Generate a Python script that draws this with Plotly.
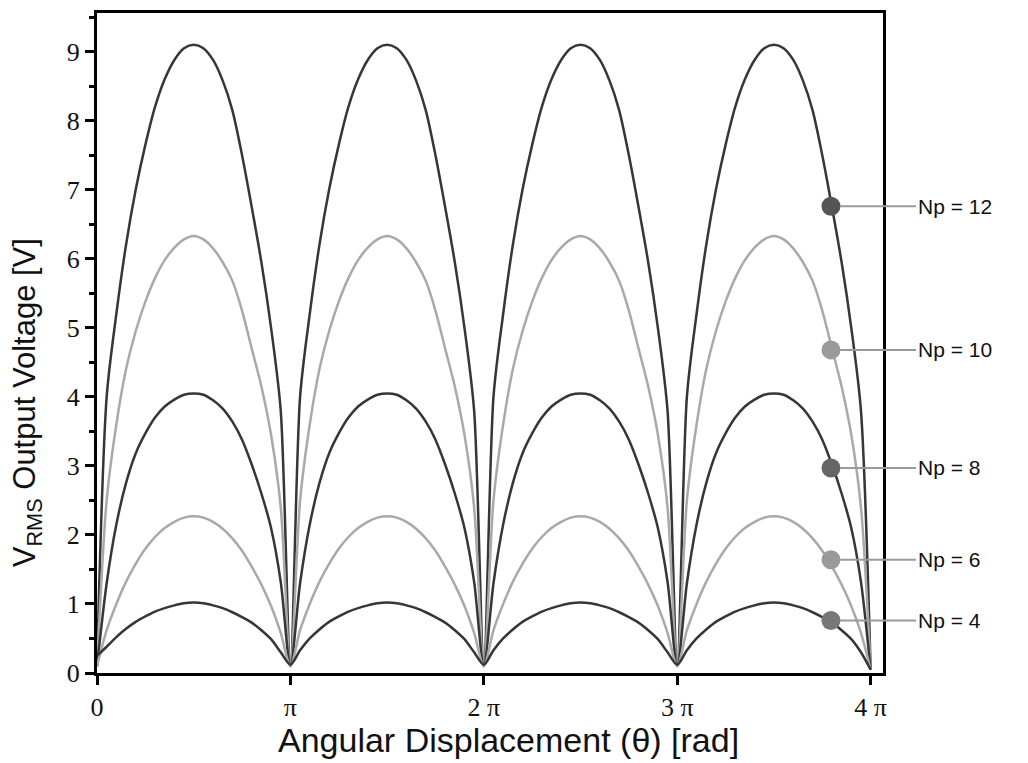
import plotly.graph_objects as go

# angular positions in multiples of pi (0 .. 4 pi, step 0.05 pi)
THETA_PI = [0, 0.05, 0.1, 0.15, 0.2, 0.25, 0.3, 0.35, 0.4, 0.45, 0.5, 0.55, 0.6, 0.65, 0.7, 0.75, 0.8, 0.85, 0.9, 0.95,
            1, 1.05, 1.1, 1.15, 1.2, 1.25, 1.3, 1.35, 1.4, 1.45, 1.5, 1.55, 1.6, 1.65, 1.7, 1.75, 1.8, 1.85, 1.9, 1.95,
            2, 2.05, 2.1, 2.15, 2.2, 2.25, 2.3, 2.35, 2.4, 2.45, 2.5, 2.55, 2.6, 2.65, 2.7, 2.75, 2.8, 2.85, 2.9, 2.95,
            3, 3.05, 3.1, 3.15, 3.2, 3.25, 3.3, 3.35, 3.4, 3.45, 3.5, 3.55, 3.6, 3.65, 3.7, 3.75, 3.8, 3.85, 3.9, 3.95,
            4]

V_NP12 = [0.1, 4.0, 5.2, 6.2, 7.0, 7.65, 8.2, 8.6, 8.88, 9.05, 9.1, 9.05, 8.88, 8.58, 8.15, 7.5, 6.75, 5.95, 5.0, 3.8,
          0.1, 4.0, 5.2, 6.2, 7.0, 7.65, 8.2, 8.6, 8.88, 9.05, 9.1, 9.05, 8.88, 8.58, 8.15, 7.5, 6.75, 5.95, 5.0, 3.8,
          0.1, 4.0, 5.2, 6.2, 7.0, 7.65, 8.2, 8.6, 8.88, 9.05, 9.1, 9.05, 8.88, 8.58, 8.15, 7.5, 6.75, 5.95, 5.0, 3.8,
          0.1, 4.0, 5.2, 6.2, 7.0, 7.65, 8.2, 8.6, 8.88, 9.05, 9.1, 9.05, 8.88, 8.58, 8.15, 7.5, 6.75, 5.95, 5.0, 3.8,
          0.05]
V_NP10 = [0.1, 2.5, 3.6, 4.4, 4.95, 5.38, 5.72, 5.98, 6.16, 6.28, 6.33, 6.28, 6.15, 5.95, 5.68, 5.25, 4.7, 4.15, 3.45, 2.4,
          0.1, 2.5, 3.6, 4.4, 4.95, 5.38, 5.72, 5.98, 6.16, 6.28, 6.33, 6.28, 6.15, 5.95, 5.68, 5.25, 4.7, 4.15, 3.45, 2.4,
          0.1, 2.5, 3.6, 4.4, 4.95, 5.38, 5.72, 5.98, 6.16, 6.28, 6.33, 6.28, 6.15, 5.95, 5.68, 5.25, 4.7, 4.15, 3.45, 2.4,
          0.1, 2.5, 3.6, 4.4, 4.95, 5.38, 5.72, 5.98, 6.16, 6.28, 6.33, 6.28, 6.15, 5.95, 5.68, 5.25, 4.7, 4.15, 3.45, 2.4,
          0.05]
V_NP8 = [0.1, 1.3, 2.15, 2.75, 3.18, 3.47, 3.7, 3.86, 3.96, 4.03, 4.05, 4.03, 3.95, 3.83, 3.64, 3.38, 3.02, 2.6, 2.1, 1.32,
         0.1, 1.3, 2.15, 2.75, 3.18, 3.47, 3.7, 3.86, 3.96, 4.03, 4.05, 4.03, 3.95, 3.83, 3.64, 3.38, 3.02, 2.6, 2.1, 1.32,
         0.1, 1.3, 2.15, 2.75, 3.18, 3.47, 3.7, 3.86, 3.96, 4.03, 4.05, 4.03, 3.95, 3.83, 3.64, 3.38, 3.02, 2.6, 2.1, 1.32,
         0.1, 1.3, 2.15, 2.75, 3.18, 3.47, 3.7, 3.86, 3.96, 4.03, 4.05, 4.03, 3.95, 3.83, 3.64, 3.38, 3.02, 2.6, 2.1, 1.32,
         0.05]
V_NP6 = [0.1, 0.62, 1.0, 1.32, 1.58, 1.8, 1.97, 2.1, 2.19, 2.25, 2.27, 2.25, 2.19, 2.09, 1.95, 1.77, 1.54, 1.28, 0.97, 0.58,
         0.1, 0.62, 1.0, 1.32, 1.58, 1.8, 1.97, 2.1, 2.19, 2.25, 2.27, 2.25, 2.19, 2.09, 1.95, 1.77, 1.54, 1.28, 0.97, 0.58,
         0.1, 0.62, 1.0, 1.32, 1.58, 1.8, 1.97, 2.1, 2.19, 2.25, 2.27, 2.25, 2.19, 2.09, 1.95, 1.77, 1.54, 1.28, 0.97, 0.58,
         0.1, 0.62, 1.0, 1.32, 1.58, 1.8, 1.97, 2.1, 2.19, 2.25, 2.27, 2.25, 2.19, 2.09, 1.95, 1.77, 1.54, 1.28, 0.97, 0.58,
         0.05]
V_NP4 = [0.25, 0.38, 0.52, 0.64, 0.74, 0.82, 0.89, 0.94, 0.98, 1.01, 1.02, 1.01, 0.98, 0.94, 0.88, 0.81, 0.73, 0.62, 0.49, 0.3,
         0.12, 0.33, 0.5, 0.63, 0.74, 0.82, 0.89, 0.94, 0.98, 1.01, 1.02, 1.01, 0.98, 0.94, 0.88, 0.81, 0.73, 0.62, 0.49, 0.3,
         0.12, 0.33, 0.5, 0.63, 0.74, 0.82, 0.89, 0.94, 0.98, 1.01, 1.02, 1.01, 0.98, 0.94, 0.88, 0.81, 0.73, 0.62, 0.49, 0.3,
         0.12, 0.33, 0.5, 0.63, 0.74, 0.82, 0.89, 0.94, 0.98, 1.01, 1.02, 1.01, 0.98, 0.94, 0.88, 0.81, 0.73, 0.62, 0.49, 0.3,
         0.05]

SERIES_NAMES = ["Np = 12", "Np = 10", "Np = 8", "Np = 6", "Np = 4"]
SERIES_VALUES = [V_NP12, V_NP10, V_NP8, V_NP6, V_NP4]
LINE_COLORS = ["#363636", "#a9a9a9", "#363636", "#a9a9a9", "#363636"]

# label marker points (on the last arch)
MARK_THETA_PI = 3.795
MARK_VALUES = [6.76, 4.68, 2.97, 1.64, 0.76]
MARK_COLORS = ["#555555", "#9a9a9a", "#666666", "#9a9a9a", "#777777"]

X_TICKS = [0, 1, 2, 3, 4]
X_TICK_TEXT = ["0", "π", "2 π", "3 π", "4 π"]
Y_TICKS = [0, 1, 2, 3, 4, 5, 6, 7, 8, 9]

SANS = "Liberation Sans, Arial"
SERIF = "Liberation Serif, Times New Roman"

fig = go.Figure()
for name, vals, col in zip(SERIES_NAMES, SERIES_VALUES, LINE_COLORS):
    fig.add_trace(go.Scatter(x=THETA_PI, y=vals, mode="lines", name=name,
                             line=dict(color=col, width=2.5, shape="spline", smoothing=0.8),
                             showlegend=False))

fig.add_trace(go.Scatter(x=[MARK_THETA_PI] * len(MARK_VALUES), y=MARK_VALUES, mode="markers",
                         marker=dict(size=19, color=MARK_COLORS), showlegend=False,
                         cliponaxis=False))

for name, v in zip(SERIES_NAMES, MARK_VALUES):
    fig.add_annotation(x=MARK_THETA_PI, y=v, xref="x", yref="y", text=name,
                       showarrow=True, arrowhead=0, arrowwidth=2, arrowcolor="#9a9a9a",
                       ax=85, ay=0, xanchor="left", standoff=9,
                       font=dict(family=SANS, size=21, color="#111"))

# axis titles
fig.add_annotation(text="Angular Displacement (θ) [rad]", xref="paper", yref="paper",
                   x=0.523, y=-0.1015, xanchor="center", yanchor="middle", showarrow=False,
                   font=dict(family=SANS, size=34, color="#111"))
fig.add_annotation(text="V<sub>RMS</sub> Output Voltage [V]", xref="paper", yref="paper",
                   x=-0.088, y=0.41, xanchor="center", yanchor="middle", showarrow=False,
                   textangle=-90, font=dict(family=SANS, size=31, color="#111"))

fig.update_layout(
    width=1028, height=763,
    margin=dict(l=97, r=145, t=13, b=90),
    plot_bgcolor="white", paper_bgcolor="white",
    xaxis=dict(range=[0, 4.064], tickvals=X_TICKS, ticktext=X_TICK_TEXT, automargin=False,
               showgrid=False, zeroline=False, showline=True, linecolor="black", linewidth=3,
               mirror=True, ticks="outside", ticklen=9, tickwidth=3, tickcolor="black",
               tickfont=dict(family=SERIF, size=26, color="#111")),
    yaxis=dict(range=[0, 9.56], tickvals=Y_TICKS, automargin=False,
               showgrid=False, zeroline=False, showline=True, linecolor="black", linewidth=3,
               mirror=True, ticks="outside", ticklen=9, tickwidth=3, tickcolor="black",
               minor=dict(dtick=0.5, ticks="outside", ticklen=5, tickwidth=3, tickcolor="black"),
               tickfont=dict(family=SERIF, size=26, color="#111")),
)

fig.write_html("out.html", config={"displayModeBar": False},
               post_script="document.body.style.margin='0';")
